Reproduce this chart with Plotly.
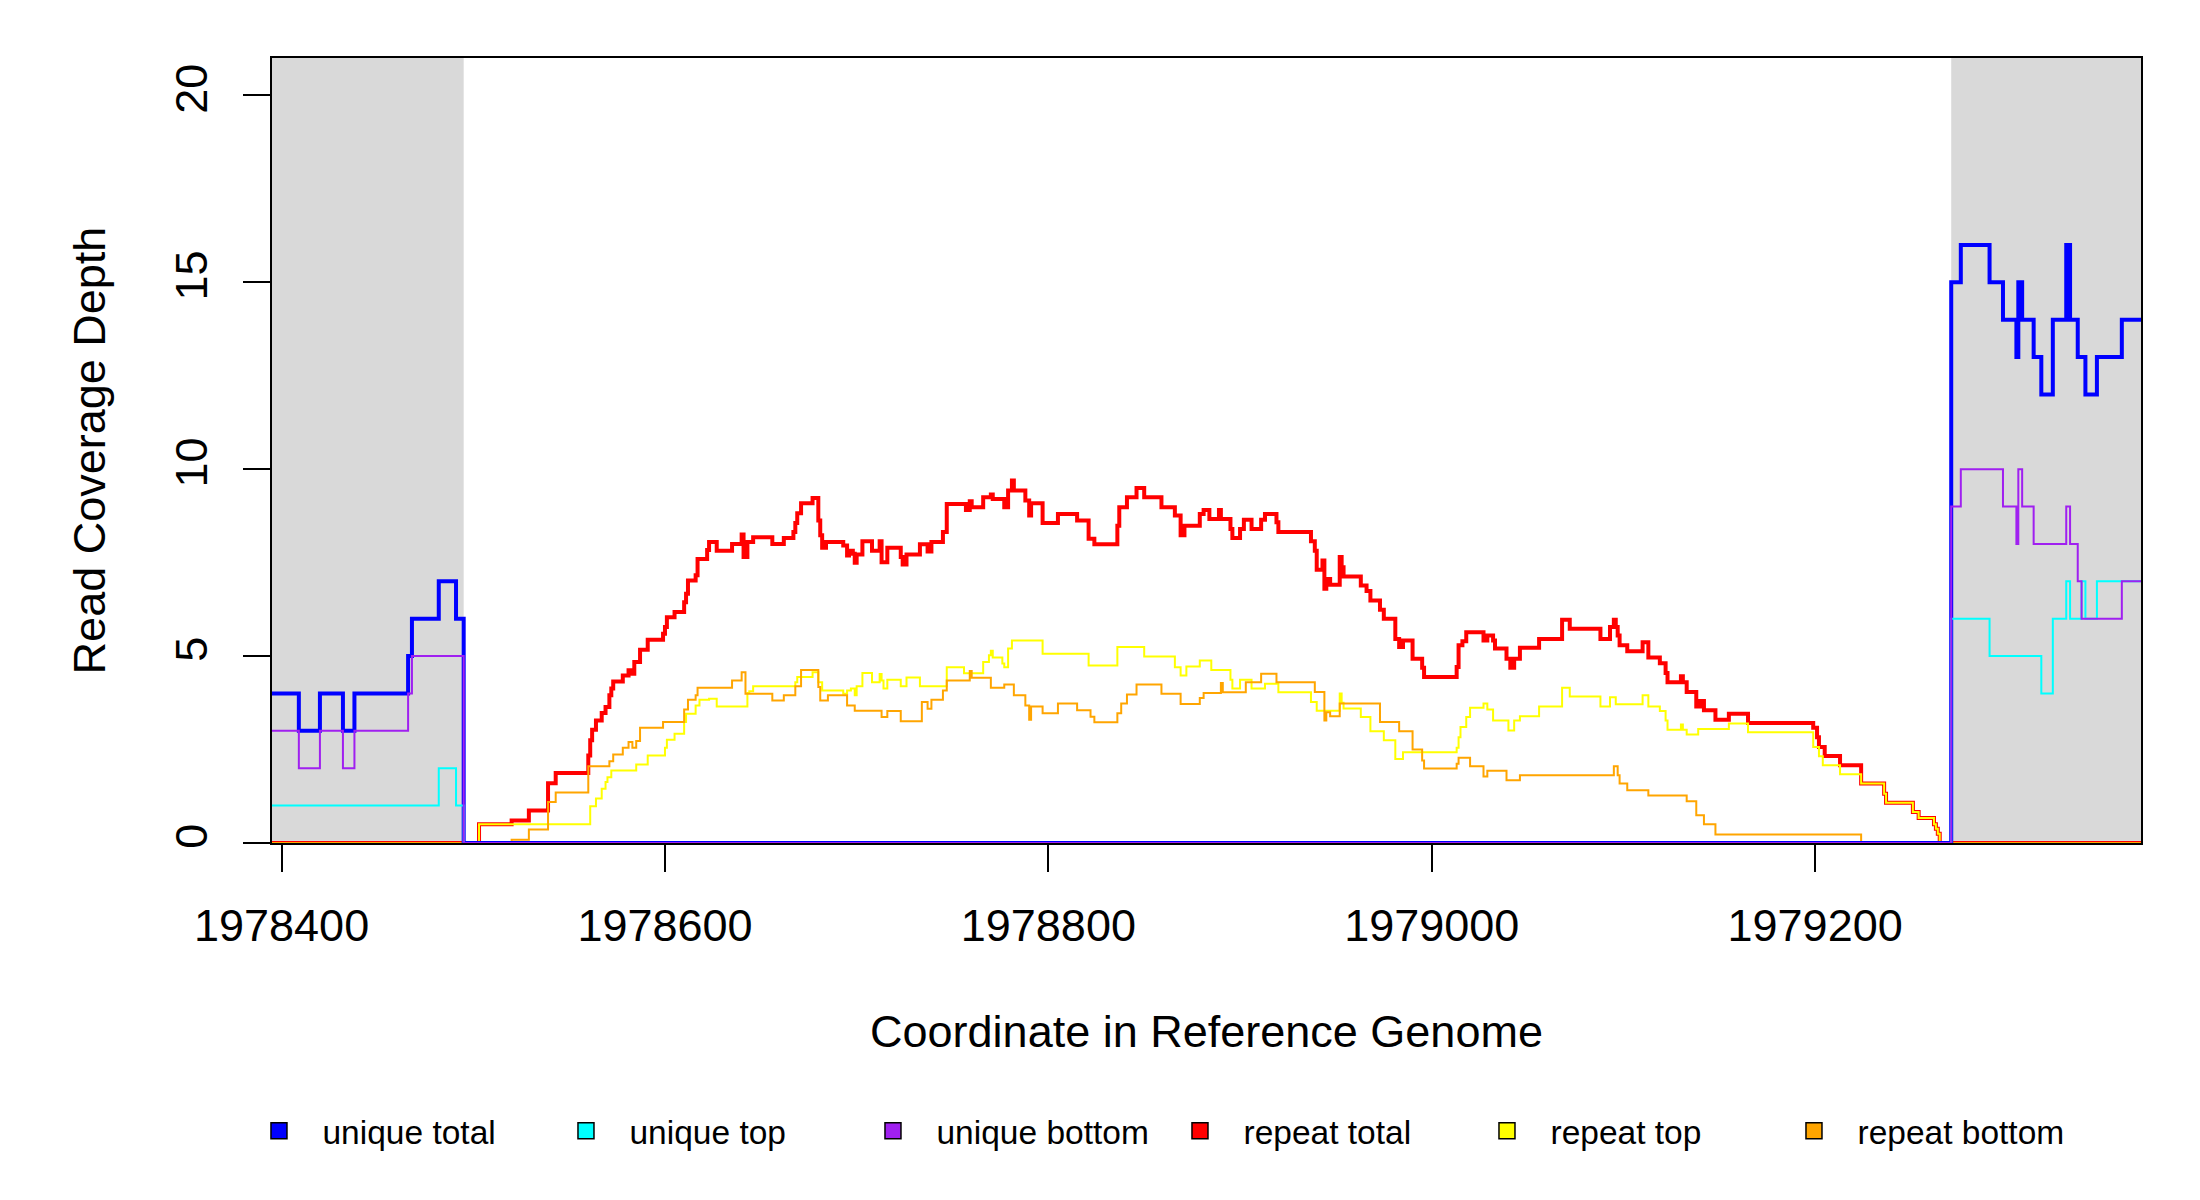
import plotly.graph_objects as go

# ---------------- data ----------------
# unique-read coverage (shared breakpoints)
uniq_pos = [1978395, 1978409, 1978420, 1978432, 1978438, 1978466, 1978468, 1978482, 1978491, 1978495,
            1979271, 1979276, 1979291, 1979298, 1979305, 1979306, 1979308, 1979314, 1979318, 1979324,
            1979331, 1979333, 1979337, 1979339, 1979341, 1979347, 1979360, 1979370]
uniq_total = [4, 3, 4, 3, 4, 5, 6, 7, 6, 0,
              15, 16, 15, 14, 13, 15, 14, 13, 12, 14,
              16, 14, 13, 13, 12, 13, 14, 14]
uniq_top = [1, 1, 1, 1, 1, 1, 1, 2, 1, 0,
            6, 6, 5, 5, 5, 5, 5, 5, 4, 6,
            7, 6, 6, 7, 6, 7, 7, 7]
uniq_bottom = [3, 2, 3, 2, 3, 4, 5, 5, 5, 0,
               9, 10, 10, 9, 8, 10, 9, 8, 8, 8,
               9, 8, 7, 6, 6, 6, 7, 7]

# repeat-read coverage: total
rep_total_pos = [1978395, 1978503, 1978520, 1978529, 1978539, 1978543, 1978560, 1978561, 1978562, 1978564,
                 1978567, 1978569, 1978571, 1978572, 1978573, 1978578, 1978581, 1978583, 1978584, 1978587,
                 1978591, 1978599, 1978600, 1978601, 1978605, 1978610, 1978611, 1978612, 1978616, 1978617,
                 1978622, 1978623, 1978627, 1978635, 1978640, 1978641, 1978643, 1978646, 1978656, 1978662,
                 1978667, 1978668, 1978669, 1978671, 1978677, 1978680, 1978681, 1978682, 1978684, 1978693,
                 1978695, 1978696, 1978698, 1978699, 1978700, 1978703, 1978708, 1978712, 1978713, 1978716,
                 1978723, 1978724, 1978726, 1978733, 1978737, 1978739, 1978745, 1978747, 1978757, 1978759,
                 1978760, 1978766, 1978770, 1978771, 1978777, 1978779, 1978781, 1978782, 1978788, 1978790,
                 1978791, 1978797, 1978805, 1978815, 1978821, 1978824, 1978836, 1978837, 1978841, 1978846,
                 1978850, 1978859, 1978866, 1978869, 1978871, 1978879, 1978881, 1978884, 1978889, 1978890,
                 1978895, 1978896, 1978900, 1978902, 1978906, 1978911, 1978913, 1978919, 1978920, 1978937,
                 1978939, 1978940, 1978943, 1978944, 1978945, 1978947, 1978952, 1978953, 1978954, 1978963,
                 1978966, 1978968, 1978973, 1978975, 1978981, 1978983, 1978985, 1978990, 1978995, 1978996,
                 1979013, 1979014, 1979016, 1979018, 1979027, 1979029, 1979032, 1979033, 1979039, 1979041,
                 1979043, 1979046, 1979056, 1979068, 1979072, 1979088, 1979093, 1979095, 1979096, 1979097,
                 1979098, 1979102, 1979110, 1979113, 1979119, 1979122, 1979123, 1979130, 1979131, 1979133,
                 1979138, 1979140, 1979142, 1979148, 1979155, 1979165, 1979199, 1979201, 1979202, 1979205,
                 1979213, 1979224, 1979236, 1979237, 1979251, 1979254, 1979262, 1979263, 1979264, 1979265,
                 1979370]
rep_total = [0, 0.5, 0.6, 0.87, 1.6, 1.87, 2.34, 2.75, 3.03, 3.28,
             3.48, 3.64, 3.95, 4.13, 4.32, 4.48, 4.62, 4.53, 4.84, 5.17,
             5.44, 5.6, 5.78, 6.04, 6.18, 6.44, 6.67, 7.02, 7.16, 7.6,
             7.84, 8.05, 7.82, 8.0, 8.25, 7.65, 8.05, 8.18, 8.0, 8.16,
             8.32, 8.56, 8.82, 9.09, 9.23, 8.63, 8.23, 7.9, 8.05, 7.96,
             7.69, 7.82, 7.74, 7.5, 7.72, 8.07, 7.82, 8.07, 7.51, 7.9,
             7.65, 7.45, 7.72, 7.99, 7.8, 8.05, 8.32, 9.07, 8.91, 9.14,
             8.98, 9.25, 9.32, 9.2, 8.98, 9.43, 9.7, 9.43, 9.16, 8.76,
             9.09, 8.56, 8.8, 8.63, 8.14, 7.99, 8.49, 8.98, 9.25, 9.5,
             9.25, 8.98, 8.76, 8.23, 8.49, 8.8, 8.91, 8.67, 8.91, 8.67,
             8.4, 8.16, 8.4, 8.65, 8.4, 8.65, 8.8, 8.58, 8.32, 8.07,
             7.82, 7.31, 7.56, 6.8, 7.06, 6.91, 7.65, 7.38, 7.13, 6.89,
             6.74, 6.49, 6.24, 6.0, 5.46, 5.24, 5.42, 4.93, 4.69, 4.44,
             4.71, 5.29, 5.4, 5.64, 5.42, 5.55, 5.42, 5.2, 4.93, 4.69,
             4.93, 5.22, 5.46, 5.97, 5.73, 5.46, 5.78, 5.97, 5.78, 5.55,
             5.29, 5.13, 5.37, 4.96, 4.81, 4.55, 4.3, 4.46, 4.3, 4.04,
             3.65, 3.8, 3.55, 3.3, 3.46, 3.21, 3.08, 2.83, 2.57, 2.33,
             2.08, 1.59, 1.32, 1.08, 0.83, 0.67, 0.5, 0.38, 0.25, 0,
             0]

# repeat-read coverage: top strand
rep_top_pos = [1978395, 1978503, 1978561, 1978564, 1978567, 1978569, 1978570, 1978572, 1978585, 1978591,
               1978600, 1978601, 1978605, 1978610, 1978611, 1978616, 1978618, 1978623, 1978627, 1978643,
               1978644, 1978646, 1978668, 1978669, 1978677, 1978680, 1978682, 1978693, 1978695, 1978697,
               1978699, 1978700, 1978703, 1978708, 1978712, 1978713, 1978714, 1978716, 1978723, 1978726,
               1978733, 1978747, 1978756, 1978766, 1978769, 1978770, 1978771, 1978776, 1978777, 1978779,
               1978781, 1978797, 1978821, 1978836, 1978850, 1978866, 1978869, 1978872, 1978879, 1978885,
               1978895, 1978896, 1978900, 1978906, 1978913, 1978920, 1978937, 1978940, 1978952, 1978953,
               1978954, 1978963, 1978968, 1978975, 1978981, 1978985, 1979013, 1979014, 1979015, 1979018,
               1979020, 1979027, 1979029, 1979032, 1979040, 1979043, 1979046, 1979056, 1979068, 1979072,
               1979088, 1979093, 1979096, 1979110, 1979113, 1979119, 1979122, 1979123, 1979130, 1979131,
               1979133, 1979139, 1979155, 1979165, 1979199, 1979202, 1979204, 1979213, 1979224, 1979236,
               1979237, 1979251, 1979254, 1979262, 1979263, 1979264, 1979265, 1979370]
rep_top = [0, 0.5, 0.98, 1.19, 1.45, 1.63, 1.76, 1.94, 2.1, 2.34,
           2.55, 2.76, 2.92, 3.24, 3.46, 3.68, 3.83, 3.86, 3.65, 4.01,
           4.06, 4.19, 4.3, 4.44, 4.57, 4.3, 4.08, 3.99, 4.08, 4.13,
           3.95, 4.19, 4.55, 4.3, 4.52, 4.35, 4.13, 4.37, 4.19, 4.43,
           4.19, 4.7, 4.54, 4.84, 5.02, 5.14, 4.96, 4.8, 4.7, 5.2,
           5.42, 5.06, 4.75, 5.24, 4.99, 4.7, 4.48, 4.72, 4.88, 4.63,
           4.37, 4.13, 4.37, 4.13, 4.26, 4.03, 3.77, 3.54, 4.0, 3.75,
           3.6, 3.37, 2.99, 2.75, 2.25, 2.43, 2.55, 2.83, 3.1, 3.37,
           3.62, 3.73, 3.57, 3.28, 3.01, 3.28, 3.39, 3.65, 4.15, 3.92,
           3.65, 3.9, 3.71, 3.95, 3.65, 3.53, 3.28, 3.03, 3.17, 3.03,
           2.9, 3.05, 3.2, 2.96, 2.57, 2.32, 2.08, 1.84, 1.59, 1.32,
           1.08, 0.83, 0.67, 0.5, 0.38, 0.25, 0, 0]

# repeat-read coverage: bottom strand
rep_bottom_pos = [1978395, 1978520, 1978529, 1978539, 1978543, 1978560, 1978571, 1978573, 1978578, 1978581,
                  1978583, 1978585, 1978587, 1978599, 1978610, 1978612, 1978616, 1978617, 1978635, 1978640,
                  1978642, 1978656, 1978662, 1978668, 1978671, 1978680, 1978681, 1978685, 1978695, 1978699,
                  1978713, 1978716, 1978723, 1978734, 1978737, 1978739, 1978745, 1978747, 1978759, 1978760,
                  1978770, 1978777, 1978782, 1978788, 1978790, 1978791, 1978797, 1978805, 1978815, 1978822,
                  1978824, 1978836, 1978838, 1978841, 1978846, 1978859, 1978869, 1978879, 1978881, 1978890,
                  1978891, 1978903, 1978911, 1978919, 1978939, 1978944, 1978945, 1978947, 1978952, 1978973,
                  1978983, 1978990, 1978995, 1978996, 1979013, 1979014, 1979020, 1979027, 1979029, 1979039,
                  1979046, 1979095, 1979097, 1979098, 1979102, 1979113, 1979133, 1979138, 1979142, 1979148,
                  1979224, 1979370]
rep_bottom = [0, 0.09, 0.36, 1.1, 1.35, 2.05, 2.19, 2.37, 2.55, 2.7,
              2.55, 2.73, 3.08, 3.24, 3.57, 3.83, 3.95, 4.15, 4.35, 4.57,
              3.99, 3.81, 3.95, 4.19, 4.63, 4.17, 3.81, 3.95, 3.68, 3.54,
              3.37, 3.53, 3.26, 3.77, 3.59, 3.83, 4.08, 4.35, 4.6, 4.42,
              4.15, 4.24, 3.95, 3.68, 3.3, 3.65, 3.47, 3.73, 3.55, 3.38,
              3.23, 3.47, 3.73, 3.97, 4.24, 3.99, 3.72, 3.88, 4.01, 4.28,
              4.03, 4.3, 4.53, 4.3, 4.04, 3.28, 3.5, 3.39, 3.73, 3.24,
              2.99, 2.5, 2.21, 1.99, 2.12, 2.28, 2.05, 1.78, 1.93, 1.68,
              1.81, 2.05, 1.81, 1.59, 1.41, 1.27, 1.12, 0.74, 0.5, 0.23,
              0, 0]

flank_left = [1978395, 1978495]
flank_right = [1979271, 1979370]
x_range = [1978395, 1979370]
y_range = [0, 21]
x_ticks = [1978400, 1978600, 1978800, 1979000, 1979200]
y_ticks = [0, 5, 10, 15, 20]

series_names = ["unique total", "unique top", "unique bottom", "repeat total", "repeat top", "repeat bottom"]
series_colors = ["#0000FF", "#00FFFF", "#A020F0", "#FF0000", "#FFFF00", "#FFA500"]

# ---------------- figure ----------------
FONT = "Liberation Sans, Arial, Helvetica, sans-serif"
fig = go.Figure()

# draw order: repeat series first, unique series on top
line_specs = [
    (rep_total_pos, rep_total, series_colors[3], 4.0),
    (rep_top_pos, rep_top, series_colors[4], 2.0),
    (rep_bottom_pos, rep_bottom, series_colors[5], 2.0),
    (uniq_pos, uniq_total, series_colors[0], 4.0),
    (uniq_pos, uniq_top, series_colors[1], 2.0),
    (uniq_pos, uniq_bottom, series_colors[2], 2.0),
]
for xs, ys, col, w in line_specs:
    fig.add_trace(go.Scatter(x=xs, y=ys, mode="lines", line=dict(color=col, width=w, shape="hv"),
                             showlegend=False, hoverinfo="skip"))

# legend entries as filled squares
for name, col in zip(series_names, series_colors):
    fig.add_trace(go.Scatter(x=[None], y=[None], mode="markers", name=name,
                             marker=dict(symbol="square", size=16, color=col,
                                         line=dict(color="black", width=1.5))))

for x0, x1 in (flank_left, flank_right):
    fig.add_shape(type="rect", xref="x", yref="y", x0=x0, x1=x1, y0=y_range[0], y1=y_range[1],
                  fillcolor="#D9D9D9", line=dict(width=0), layer="below")

fig.update_layout(
    width=2200, height=1200,
    margin=dict(l=264, r=67, t=50, b=365, autoexpand=False),
    paper_bgcolor="white", plot_bgcolor="white",
    font=dict(family=FONT, size=45, color="black"),
    legend=dict(orientation="h", xref="container", yref="container",
                x=0.1034, y=0.0642, xanchor="left", yanchor="middle",
                font=dict(size=33.5, family=FONT), entrywidth=215, entrywidthmode="pixels",
                itemwidth=77, bgcolor="rgba(0,0,0,0)", borderwidth=0),
    xaxis=dict(range=x_range, tickmode="array", tickvals=x_ticks, ticktext=[str(v) for v in x_ticks],
               ticks="outside", ticklen=27, tickwidth=2, tickcolor="black",
               showline=True, mirror=True, linecolor="black", linewidth=2,
               showgrid=False, zeroline=False, ticklabelstandoff=15,
               title=dict(text="Coordinate in Reference Genome", standoff=65,
                          font=dict(size=45, family=FONT))),
    yaxis=dict(range=y_range, tickmode="array", tickvals=y_ticks, ticktext=[str(v) for v in y_ticks],
               ticks="outside", ticklen=27, tickwidth=2, tickcolor="black", tickangle=-90,
               showline=True, mirror=True, linecolor="black", linewidth=2,
               showgrid=False, zeroline=False, ticklabelstandoff=18,
               title=dict(text="Read Coverage Depth", standoff=46,
                          font=dict(size=45, family=FONT))),
)

fig.write_html("out.html")
